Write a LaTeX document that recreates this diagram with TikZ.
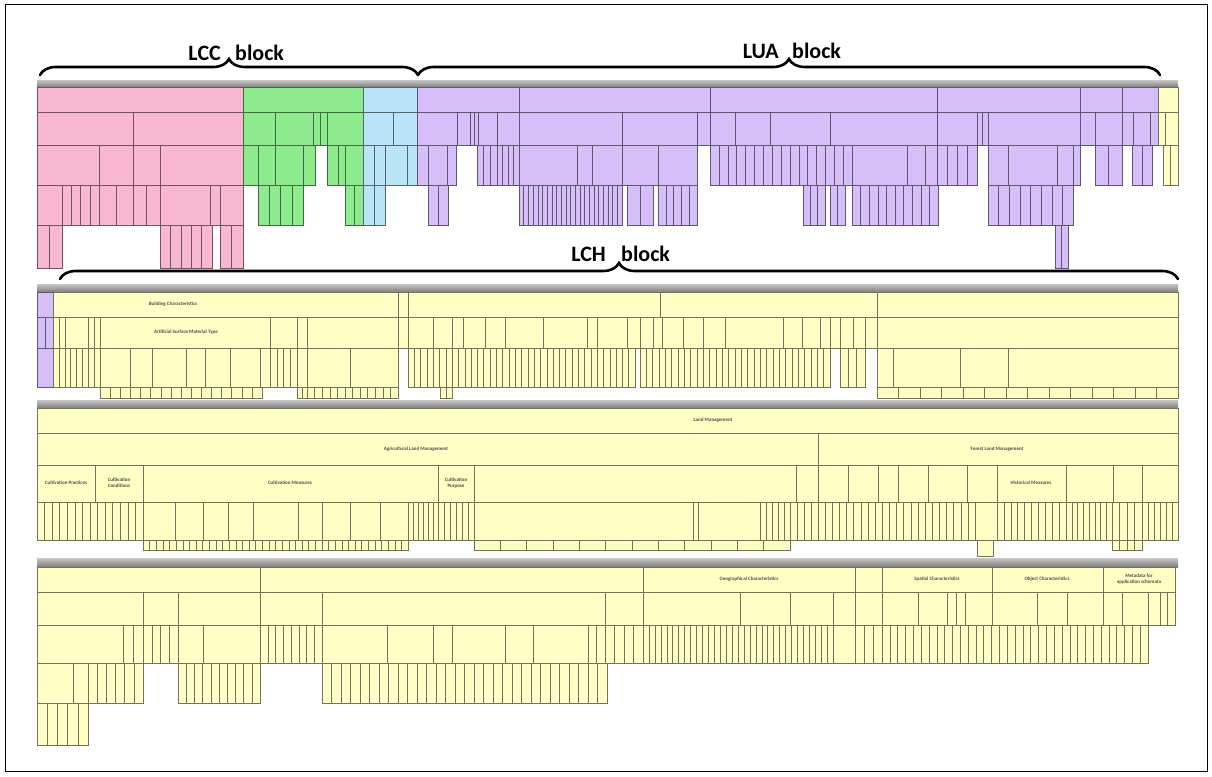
\documentclass[tikz,border=0pt]{standalone}
\usepackage{fontspec}
\setmainfont{Carlito}
\usetikzlibrary{decorations.pathreplacing}
\definecolor{lccpink}{RGB}{248,184,210}
\definecolor{lccgreen}{RGB}{142,236,142}
\definecolor{lccblue}{RGB}{186,228,248}
\definecolor{luapurple}{RGB}{214,190,248}
\definecolor{lchyellow}{RGB}{255,255,198}
\tikzset{
  cellbox/.style={draw=#1!45!black,fill=#1,line width=0.6pt},
  cellline/.style={draw=#1!45!black,line width=0.45pt},
  hdrbar/.style={top color=black!22,bottom color=black!50},
  blockbrace/.style={decorate,decoration={brace,amplitude=16pt},line width=2.6pt,line cap=round},
  blocklabel/.style={font=\fontsize{22}{24}\selectfont\bfseries,inner sep=0pt},
  headtxt/.style={font=\fontsize{5}{6}\selectfont\bfseries,text=black!70,align=center,inner sep=0pt}
}
% one cell, split into equal columns
\newcommand{\cellgrid}[6]{%
  \path[cellbox=#1] (#2,#4) rectangle (#3,#5);
  \ifnum#6>1\relax
    \foreach \k in {1,...,#6}{%
      \ifnum\k<#6\relax
        \pgfmathsetmacro{\xx}{#2+(#3-#2)*\k/#6}%
        \draw[cellline=#1] (\xx,#4) -- (\xx,#5);
      \fi}%
  \fi}
% one row of cells: colour, top, bottom, x1/x2/columns
\newcommand{\cellrow}[4]{%
  \foreach \xa/\xb/\nc in {#4}{\cellgrid{#1}{\xa}{\xb}{#2}{#3}{\nc}}}

\begin{document}
\begin{tikzpicture}[x=1pt,y=-1pt]
\useasboundingbox (0,0) rectangle (1212,776);
\fill[white] (0,0) rectangle (1212,776);
\draw[line width=1pt] (5,5) rectangle (1207,771);

% ---- LCC / LUA table
\shade[hdrbar] (37,80) rectangle (1178,87);
\cellrow{lccpink}{87}{112}{37/243/1}
\cellrow{lccpink}{112}{145}{37/133/1, 133/243/1}
\cellrow{lccpink}{145}{185}{37/99/1, 99/133/1, 133/160/1, 160/243/1}
\cellrow{lccpink}{185}{225}{37/62/1, 62/99/4, 99/133/2, 133/160/2, 160/210/1, 210/220/1, 220/243/1}
\cellrow{lccpink}{225}{268}{37/62/2, 160/212/5, 220/243/2}
\cellrow{lccgreen}{87}{112}{243/363/1}
\cellrow{lccgreen}{112}{145}{243/275/1, 275/313/1, 313/327/2, 327/363/1}
\cellrow{lccgreen}{145}{185}{243/258/1, 258/275/1, 275/303/1, 303/315/1, 327/338/1, 338/345/1, 345/363/1}
\cellrow{lccgreen}{185}{225}{258/303/4, 345/363/2}
\cellrow{lccblue}{87}{112}{363/417/1}
\cellrow{lccblue}{112}{145}{363/393/1, 393/417/1}
\cellrow{lccblue}{145}{185}{363/385/2, 385/407/1, 407/417/1}
\cellrow{lccblue}{185}{225}{363/385/2}
\cellrow{luapurple}{87}{112}{417/519/1, 519/710/1, 710/937/1, 937/1080/1, 1080/1122/1, 1122/1158/1}
\cellrow{luapurple}{112}{145}{417/457/1, 457/470/1, 470/478/2, 478/497/1, 497/519/1, 519/622/1, 622/697/1, 697/710/1, 710/735/1, 735/770/1, 770/830/1, 830/937/1, 937/977/1, 977/988/2, 988/1080/1, 1080/1095/1, 1095/1122/1, 1122/1133/1, 1133/1150/1, 1150/1158/1}
\cellrow{luapurple}{145}{185}{417/428/1, 428/447/1, 447/456/1, 477/497/3, 497/519/4, 519/577/1, 577/592/1, 592/622/1, 622/658/1, 658/697/1, 710/852/16, 852/907/1, 907/925/1, 925/937/1, 937/977/4, 988/1008/1, 1008/1057/1, 1057/1073/1, 1073/1080/1, 1095/1122/2, 1132/1152/2}
\cellrow{luapurple}{185}{225}{428/448/2, 519/622/22, 627/653/2, 658/697/5, 803/825/3, 830/845/2, 852/938/10, 988/1073/8}
\cellrow{luapurple}{225}{268}{1055/1068/2}
\cellrow{lchyellow}{87}{112}{1158/1178/1}
\cellrow{lchyellow}{112}{145}{1158/1165/1, 1165/1178/1}
\cellrow{lchyellow}{145}{185}{1163/1178/2}

% ---- LCH table 1
\shade[hdrbar] (37,284) rectangle (1178,292);
\cellrow{luapurple}{292}{317}{37/53/1}
\cellrow{luapurple}{317}{348}{37/53/2}
\cellrow{luapurple}{348}{387}{37/53/1}
\cellrow{lchyellow}{292}{317}{53/398/1, 398/408/1, 408/660/1, 660/877/1, 877/1178/1}
\cellrow{lchyellow}{317}{348}{53/65/2, 65/88/1, 88/100/2, 100/270/1, 270/297/1, 297/307/1, 307/398/1, 398/408/1, 408/433/1, 433/452/1, 452/463/1, 463/485/1, 485/505/1, 505/543/1, 543/587/1, 587/597/1, 597/627/1, 627/640/1, 640/653/1, 653/662/1, 662/683/1, 683/703/1, 703/725/1, 725/783/1, 783/802/1, 802/820/1, 820/830/1, 830/840/1, 840/853/1, 853/865/1, 865/877/1, 877/1178/1}
\cellrow{lchyellow}{348}{387}{53/100/8, 100/130/1, 130/152/1, 152/186/1, 186/205/1, 205/230/1, 230/260/1, 260/270/1, 270/297/4, 297/307/1, 307/350/1, 350/398/1, 408/635/36, 640/830/30, 840/865/3, 877/893/1, 893/960/1, 960/1008/1, 1008/1178/1}
\cellrow{lchyellow}{387}{398}{100/262/16, 297/307/2, 307/398/12, 440/452/2, 877/1178/14}
\node[headtxt] at (173,304) {Building Characteristics};
\node[headtxt] at (186,332) {Artificial Surface Material Type};

% ---- LCH table 2
\shade[hdrbar] (37,400) rectangle (1178,408);
\cellrow{lchyellow}{408}{433}{37/1178/1}
\cellrow{lchyellow}{433}{465}{37/818/1, 818/1178/1}
\cellrow{lchyellow}{465}{502}{37/95/1, 95/143/1, 143/438/1, 438/474/1, 474/796/1, 796/818/1, 818/848/1, 848/878/1, 878/898/1, 898/928/1, 928/967/1, 967/997/1, 997/1066/1, 1066/1113/1, 1113/1142/1, 1142/1178/1}
\cellrow{lchyellow}{502}{540}{37/143/14, 143/175/1, 175/203/1, 203/228/1, 228/253/1, 253/298/1, 298/322/1, 322/350/1, 350/380/1, 380/408/1, 408/438/6, 438/474/6, 474/693/1, 693/698/1, 698/760/1, 760/790/5, 790/818/4, 818/975/22, 975/997/1, 997/1066/10, 1066/1112/8, 1112/1142/4, 1142/1178/6}
\cellrow{lchyellow}{540}{550}{143/408/40, 474/790/12, 1112/1142/4}
\cellrow{lchyellow}{540}{556}{977/993/1}
\node[headtxt] at (713,420) {Land Management};
\node[headtxt] at (416,449) {Agricultural Land Management};
\node[headtxt] at (997,449) {Forest Land Management};
\node[headtxt] at (66,483) {Cultivation Practices};
\node[headtxt] at (119,483) {Cultivation\\Conditions};
\node[headtxt] at (290,483) {Cultivation Measures};
\node[headtxt] at (456,483) {Cultivation\\Purpose};
\node[headtxt] at (1031,483) {Historical Measures};

% ---- LCH table 3
\shade[hdrbar] (37,558) rectangle (1178,567);
\cellrow{lchyellow}{567}{592}{37/260/1, 260/643/1, 643/855/1, 855/882/1, 882/992/1, 992/1103/1, 1103/1175/1}
\cellrow{lchyellow}{592}{625}{37/143/1, 143/178/1, 178/260/1, 260/322/1, 322/605/1, 605/643/1, 643/740/1, 740/790/1, 790/833/1, 833/855/1, 855/882/1, 882/918/1, 918/947/1, 947/965/2, 965/992/1, 992/1037/1, 1037/1067/1, 1067/1103/1, 1103/1122/1, 1122/1148/1, 1148/1160/1, 1160/1175/2}
\cellrow{lchyellow}{625}{663}{37/123/1, 123/143/2, 143/178/4, 178/203/1, 203/260/1, 260/322/8, 322/387/1, 387/433/1, 433/452/1, 452/505/1, 505/533/1, 533/588/1, 588/605/2, 605/643/4, 643/833/32, 833/855/1, 855/882/3, 882/1148/34}
\cellrow{lchyellow}{663}{703}{37/73/1, 73/88/1, 88/143/6, 178/260/10, 322/607/30}
\cellrow{lchyellow}{703}{745}{37/88/5}
\node[headtxt] at (749,579) {Geographical Characteristics};
\node[headtxt] at (937,579) {Spatial Characteristics};
\node[headtxt] at (1047,579) {Object Characteristics};
\node[headtxt] at (1139,579) {Metadata for\\application schemata};

% ---- block braces
\coordinate (lccL) at (40,75);
\coordinate (lccR) at (418,75);
\coordinate (luaL) at (418,75);
\coordinate (luaR) at (1160,75);
\coordinate (lchL) at (60,279);
\coordinate (lchR) at (1178,279);
\draw[blockbrace] (lccL) -- (lccR);
\draw[blockbrace] (luaL) -- (luaR);
\draw[blockbrace] (lchL) -- (lchR);
\node[blocklabel,anchor=base east] (lcc) at (221,60) {LCC};
\node[blocklabel,anchor=base west] (lccb) at (235,60) {block};
\node[blocklabel,anchor=base east] (lua) at (779,59) {LUA};
\node[blocklabel,anchor=base west] (luab) at (792,59) {block};
\node[blocklabel,anchor=base east] (lch) at (606,261) {LCH};
\node[blocklabel,anchor=base west] (lchb) at (621,261) {block};
\end{tikzpicture}
\end{document}
